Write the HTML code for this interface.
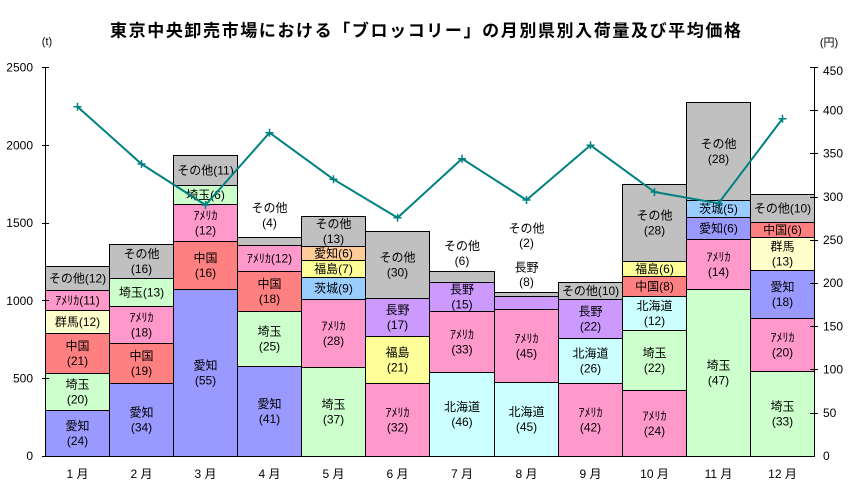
<!DOCTYPE html>
<html>
<head>
<meta charset="utf-8">
<style>
html,body{margin:0;padding:0;background:#fff;}
svg{display:block;}
text{font-family:"Liberation Sans","Noto Sans CJK JP",sans-serif;fill:#000;}
.l{font-size:12px;text-anchor:middle;dominant-baseline:central;}
.ax{font-size:12px;dominant-baseline:central;}
</style>
</head>
<body>
<svg width="852" height="489" viewBox="0 0 852 489" xmlns="http://www.w3.org/2000/svg">
<rect x="0" y="0" width="852" height="489" fill="#fff"/>
<text x="425.5" y="31" font-size="17" font-weight="bold" text-anchor="middle" dominant-baseline="central" textLength="631" lengthAdjust="spacing">東京中央卸売市場における「ブロッコリー」の月別県別入荷量及び平均価格</text>
<text x="47" y="42" font-size="11" text-anchor="middle" dominant-baseline="central">(t)</text>
<text x="829" y="43" font-size="11" text-anchor="middle" dominant-baseline="central">(円)</text>

<g stroke="#000" stroke-width="1">
<!-- 1月 -->
<rect x="45.5" y="410.5" width="64" height="46" fill="#9999FF"/>
<rect x="45.5" y="373.5" width="64" height="37" fill="#CCFFCC"/>
<rect x="45.5" y="333.5" width="64" height="40" fill="#FF8080"/>
<rect x="45.5" y="310.5" width="64" height="23" fill="#FFFFCC"/>
<rect x="45.5" y="290.5" width="64" height="20" fill="#FF99CC"/>
<rect x="45.5" y="266.5" width="64" height="24" fill="#C0C0C0"/>
<!-- 2月 -->
<rect x="109.5" y="383.5" width="64" height="73" fill="#9999FF"/>
<rect x="109.5" y="343.5" width="64" height="40" fill="#FF8080"/>
<rect x="109.5" y="306.5" width="64" height="37" fill="#FF99CC"/>
<rect x="109.5" y="278.5" width="64" height="28" fill="#CCFFCC"/>
<rect x="109.5" y="244.5" width="64" height="34" fill="#C0C0C0"/>
<!-- 3月 -->
<rect x="173.5" y="289.5" width="64" height="167" fill="#9999FF"/>
<rect x="173.5" y="241.5" width="64" height="48" fill="#FF8080"/>
<rect x="173.5" y="204.5" width="64" height="37" fill="#FF99CC"/>
<rect x="173.5" y="185.5" width="64" height="19" fill="#CCFFCC"/>
<rect x="173.5" y="155.5" width="64" height="30" fill="#C0C0C0"/>
<!-- 4月 -->
<rect x="237.5" y="366.5" width="64" height="90" fill="#9999FF"/>
<rect x="237.5" y="311.5" width="64" height="55" fill="#CCFFCC"/>
<rect x="237.5" y="271.5" width="64" height="40" fill="#FF8080"/>
<rect x="237.5" y="245.5" width="64" height="26" fill="#FF99CC"/>
<rect x="237.5" y="237.5" width="64" height="8" fill="#C0C0C0"/>
<!-- 5月 -->
<rect x="301.5" y="367.5" width="64" height="89" fill="#CCFFCC"/>
<rect x="301.5" y="299.5" width="64" height="68" fill="#FF99CC"/>
<rect x="301.5" y="277.5" width="64" height="22" fill="#99CCFF"/>
<rect x="301.5" y="260.5" width="64" height="17" fill="#FFFF99"/>
<rect x="301.5" y="246.5" width="64" height="14" fill="#FFCC99"/>
<rect x="301.5" y="216.5" width="64" height="30" fill="#C0C0C0"/>
<!-- 6月 -->
<rect x="365.5" y="383.5" width="64" height="73" fill="#FF99CC"/>
<rect x="365.5" y="336.5" width="64" height="47" fill="#FFFF99"/>
<rect x="365.5" y="298.5" width="64" height="38" fill="#CC99FF"/>
<rect x="365.5" y="231.5" width="64" height="67" fill="#C0C0C0"/>
<!-- 7月 -->
<rect x="429.5" y="372.5" width="65" height="84" fill="#CCFFFF"/>
<rect x="429.5" y="311.5" width="65" height="61" fill="#FF99CC"/>
<rect x="429.5" y="282.5" width="65" height="29" fill="#CC99FF"/>
<rect x="429.5" y="271.5" width="65" height="11" fill="#C0C0C0"/>
<!-- 8月 -->
<rect x="494.5" y="382.5" width="64" height="74" fill="#CCFFFF"/>
<rect x="494.5" y="309.5" width="64" height="73" fill="#FF99CC"/>
<rect x="494.5" y="296.5" width="64" height="13" fill="#CC99FF"/>
<rect x="494.5" y="292.5" width="64" height="4" fill="#C0C0C0"/>
<!-- 9月 -->
<rect x="558.5" y="383.5" width="64" height="73" fill="#FF99CC"/>
<rect x="558.5" y="338.5" width="64" height="45" fill="#CCFFFF"/>
<rect x="558.5" y="299.5" width="64" height="39" fill="#CC99FF"/>
<rect x="558.5" y="282.5" width="64" height="17" fill="#C0C0C0"/>
<!-- 10月 -->
<rect x="622.5" y="390.5" width="64" height="66" fill="#FF99CC"/>
<rect x="622.5" y="330.5" width="64" height="60" fill="#CCFFCC"/>
<rect x="622.5" y="296.5" width="64" height="34" fill="#CCFFFF"/>
<rect x="622.5" y="276.5" width="64" height="20" fill="#FF8080"/>
<rect x="622.5" y="261.5" width="64" height="15" fill="#FFFF99"/>
<rect x="622.5" y="184.5" width="64" height="77" fill="#C0C0C0"/>
<!-- 11月 -->
<rect x="686.5" y="289.5" width="64" height="167" fill="#CCFFCC"/>
<rect x="686.5" y="239.5" width="64" height="50" fill="#FF99CC"/>
<rect x="686.5" y="217.5" width="64" height="22" fill="#9999FF"/>
<rect x="686.5" y="200.5" width="64" height="17" fill="#99CCFF"/>
<rect x="686.5" y="102.5" width="64" height="98" fill="#C0C0C0"/>
<!-- 12月 -->
<rect x="750.5" y="371.5" width="64" height="85" fill="#CCFFCC"/>
<rect x="750.5" y="318.5" width="64" height="53" fill="#FF99CC"/>
<rect x="750.5" y="270.5" width="64" height="48" fill="#9999FF"/>
<rect x="750.5" y="237.5" width="64" height="33" fill="#FFFFCC"/>
<rect x="750.5" y="222.5" width="64" height="15" fill="#FF8080"/>
<rect x="750.5" y="194.5" width="64" height="28" fill="#C0C0C0"/>
</g>

<!-- axes -->
<g stroke="#000" stroke-width="1" fill="none">
<line x1="45.5" y1="67" x2="45.5" y2="456.5"/>
<line x1="45" y1="456.5" x2="815" y2="456.5"/>
<line x1="814.5" y1="67" x2="814.5" y2="456.5"/>
<line x1="42" y1="67.5" x2="49" y2="67.5"/>
<line x1="42" y1="145.5" x2="49" y2="145.5"/>
<line x1="42" y1="223.5" x2="49" y2="223.5"/>
<line x1="42" y1="300.5" x2="49" y2="300.5"/>
<line x1="42" y1="378.5" x2="49" y2="378.5"/>
<line x1="42" y1="456.5" x2="49" y2="456.5"/>
<line x1="810" y1="67.5" x2="818" y2="67.5"/>
<line x1="810" y1="110.5" x2="818" y2="110.5"/>
<line x1="810" y1="153.5" x2="818" y2="153.5"/>
<line x1="810" y1="197.5" x2="818" y2="197.5"/>
<line x1="810" y1="240.5" x2="818" y2="240.5"/>
<line x1="810" y1="283.5" x2="818" y2="283.5"/>
<line x1="810" y1="326.5" x2="818" y2="326.5"/>
<line x1="810" y1="369.5" x2="818" y2="369.5"/>
<line x1="810" y1="413.5" x2="818" y2="413.5"/>
</g>

<g class="ax" text-anchor="end">
<text class="ax" x="33" y="67.5" text-anchor="end">2500</text>
<text class="ax" x="33" y="145.3" text-anchor="end">2000</text>
<text class="ax" x="33" y="223" text-anchor="end">1500</text>
<text class="ax" x="33" y="300.8" text-anchor="end">1000</text>
<text class="ax" x="33" y="378.5" text-anchor="end">500</text>
<text class="ax" x="33" y="456" text-anchor="end">0</text>
</g>
<g>
<text class="ax" x="823" y="71">450</text>
<text class="ax" x="823" y="110.4">400</text>
<text class="ax" x="823" y="153.6">350</text>
<text class="ax" x="823" y="196.8">300</text>
<text class="ax" x="823" y="240">250</text>
<text class="ax" x="823" y="283.2">200</text>
<text class="ax" x="823" y="326.4">150</text>
<text class="ax" x="823" y="369.6">100</text>
<text class="ax" x="823" y="412.8">50</text>
<text class="ax" x="823" y="456">0</text>
</g>

<!-- month labels -->
<g>
<text class="l" x="77.5" y="474">1 月</text>
<text class="l" x="141.5" y="474">2 月</text>
<text class="l" x="205.5" y="474">3 月</text>
<text class="l" x="269.5" y="474">4 月</text>
<text class="l" x="333.5" y="474">5 月</text>
<text class="l" x="397.5" y="474">6 月</text>
<text class="l" x="462" y="474">7 月</text>
<text class="l" x="526.5" y="474">8 月</text>
<text class="l" x="590.5" y="474">9 月</text>
<text class="l" x="654.5" y="474">10 月</text>
<text class="l" x="718.5" y="474">11 月</text>
<text class="l" x="782.5" y="474">12 月</text>
</g>

<!-- segment labels -->
<g>
<!-- 1月 -->
<text class="l" x="77.5" y="426">愛知</text><text class="l" x="77.5" y="441">(24)</text>
<text class="l" x="77.5" y="384.5">埼玉</text><text class="l" x="77.5" y="399.5">(20)</text>
<text class="l" x="77.5" y="346">中国</text><text class="l" x="77.5" y="361">(21)</text>
<text class="l" x="77.5" y="322">群馬(12)</text>
<text class="l" x="77.5" y="300.5">ｱﾒﾘｶ(11)</text>
<text class="l" x="77.5" y="278.5">その他(12)</text>
<!-- 2月 -->
<text class="l" x="141.5" y="412.5">愛知</text><text class="l" x="141.5" y="427.5">(34)</text>
<text class="l" x="141.5" y="356">中国</text><text class="l" x="141.5" y="371">(19)</text>
<text class="l" x="141.5" y="317.5">ｱﾒﾘｶ</text><text class="l" x="141.5" y="332.5">(18)</text>
<text class="l" x="141.5" y="292.5">埼玉(13)</text>
<text class="l" x="141.5" y="254">その他</text><text class="l" x="141.5" y="269">(16)</text>
<!-- 3月 -->
<text class="l" x="205.5" y="365.5">愛知</text><text class="l" x="205.5" y="380.5">(55)</text>
<text class="l" x="205.5" y="258">中国</text><text class="l" x="205.5" y="273">(16)</text>
<text class="l" x="205.5" y="215.5">ｱﾒﾘｶ</text><text class="l" x="205.5" y="230.5">(12)</text>
<text class="l" x="205.5" y="195">埼玉(6)</text>
<text class="l" x="205.5" y="170.5">その他(11)</text>
<!-- 4月 -->
<text class="l" x="269.5" y="404">愛知</text><text class="l" x="269.5" y="419">(41)</text>
<text class="l" x="269.5" y="331.5">埼玉</text><text class="l" x="269.5" y="346.5">(25)</text>
<text class="l" x="269.5" y="284">中国</text><text class="l" x="269.5" y="299">(18)</text>
<text class="l" x="269.5" y="258.5">ｱﾒﾘｶ(12)</text>
<text class="l" x="269.5" y="208">その他</text><text class="l" x="269.5" y="223">(4)</text>
<!-- 5月 -->
<text class="l" x="333.5" y="404.5">埼玉</text><text class="l" x="333.5" y="419.5">(37)</text>
<text class="l" x="333.5" y="326">ｱﾒﾘｶ</text><text class="l" x="333.5" y="341">(28)</text>
<text class="l" x="333.5" y="288.5">茨城(9)</text>
<text class="l" x="333.5" y="269">福島(7)</text>
<text class="l" x="333.5" y="253.5">愛知(6)</text>
<text class="l" x="333.5" y="224">その他</text><text class="l" x="333.5" y="239">(13)</text>
<!-- 6月 -->
<text class="l" x="397.5" y="412.5">ｱﾒﾘｶ</text><text class="l" x="397.5" y="427.5">(32)</text>
<text class="l" x="397.5" y="352.5">福島</text><text class="l" x="397.5" y="367.5">(21)</text>
<text class="l" x="397.5" y="310">長野</text><text class="l" x="397.5" y="325">(17)</text>
<text class="l" x="397.5" y="257.5">その他</text><text class="l" x="397.5" y="272.5">(30)</text>
<!-- 7月 -->
<text class="l" x="462" y="407">北海道</text><text class="l" x="462" y="422">(46)</text>
<text class="l" x="462" y="334.5">ｱﾒﾘｶ</text><text class="l" x="462" y="349.5">(33)</text>
<text class="l" x="462" y="289.5">長野</text><text class="l" x="462" y="304.5">(15)</text>
<text class="l" x="462" y="246">その他</text><text class="l" x="462" y="261">(6)</text>
<!-- 8月 -->
<text class="l" x="526.5" y="412">北海道</text><text class="l" x="526.5" y="427">(45)</text>
<text class="l" x="526.5" y="338.5">ｱﾒﾘｶ</text><text class="l" x="526.5" y="353.5">(45)</text>
<text class="l" x="526.5" y="267.5">長野</text><text class="l" x="526.5" y="282">(8)</text>
<text class="l" x="526.5" y="228.5">その他</text><text class="l" x="526.5" y="243">(2)</text>
<!-- 9月 -->
<text class="l" x="590.5" y="412.5">ｱﾒﾘｶ</text><text class="l" x="590.5" y="427.5">(42)</text>
<text class="l" x="590.5" y="353.5">北海道</text><text class="l" x="590.5" y="368.5">(26)</text>
<text class="l" x="590.5" y="311.5">長野</text><text class="l" x="590.5" y="326.5">(22)</text>
<text class="l" x="590.5" y="291">その他(10)</text>
<!-- 10月 -->
<text class="l" x="654.5" y="416">ｱﾒﾘｶ</text><text class="l" x="654.5" y="431">(24)</text>
<text class="l" x="654.5" y="353">埼玉</text><text class="l" x="654.5" y="368">(22)</text>
<text class="l" x="654.5" y="306">北海道</text><text class="l" x="654.5" y="321">(12)</text>
<text class="l" x="654.5" y="286.5">中国(8)</text>
<text class="l" x="654.5" y="269">福島(6)</text>
<text class="l" x="654.5" y="215.5">その他</text><text class="l" x="654.5" y="230.5">(28)</text>
<!-- 11月 -->
<text class="l" x="718.5" y="365.5">埼玉</text><text class="l" x="718.5" y="380.5">(47)</text>
<text class="l" x="718.5" y="257">ｱﾒﾘｶ</text><text class="l" x="718.5" y="272">(14)</text>
<text class="l" x="718.5" y="228.5">愛知(6)</text>
<text class="l" x="718.5" y="209">茨城(5)</text>
<text class="l" x="718.5" y="144">その他</text><text class="l" x="718.5" y="159">(28)</text>
<!-- 12月 -->
<text class="l" x="782.5" y="406.5">埼玉</text><text class="l" x="782.5" y="421.5">(33)</text>
<text class="l" x="782.5" y="337.5">ｱﾒﾘｶ</text><text class="l" x="782.5" y="352.5">(20)</text>
<text class="l" x="782.5" y="287">愛知</text><text class="l" x="782.5" y="302">(18)</text>
<text class="l" x="782.5" y="246.5">群馬</text><text class="l" x="782.5" y="261.5">(13)</text>
<text class="l" x="782.5" y="230">中国(6)</text>
<text class="l" x="782.5" y="208.5">その他(10)</text>
</g>

<!-- price line -->
<polyline fill="none" stroke="#008080" stroke-width="2" stroke-linejoin="round"
 points="77.5,106.7 141.5,164 205.5,205 269.5,132.7 333.5,179.3 397.5,217.7 462,158.7 526.5,200 590.5,145.3 654.5,192 718.5,203.3 782.5,118.7"/>
<g stroke="#008080" stroke-width="1.5">
<path d="M73.5 106.7h8M77.5 102.7v8"/>
<path d="M137.5 164h8M141.5 160v8"/>
<path d="M201.5 205h8M205.5 201v8"/>
<path d="M265.5 132.7h8M269.5 128.7v8"/>
<path d="M329.5 179.3h8M333.5 175.3v8"/>
<path d="M393.5 217.7h8M397.5 213.7v8"/>
<path d="M458 158.7h8M462 154.7v8"/>
<path d="M522.5 200h8M526.5 196v8"/>
<path d="M586.5 145.3h8M590.5 141.3v8"/>
<path d="M650.5 192h8M654.5 188v8"/>
<path d="M714.5 203.3h8M718.5 199.3v8"/>
<path d="M778.5 118.7h8M782.5 114.7v8"/>
</g>
</svg>
</body>
</html>
